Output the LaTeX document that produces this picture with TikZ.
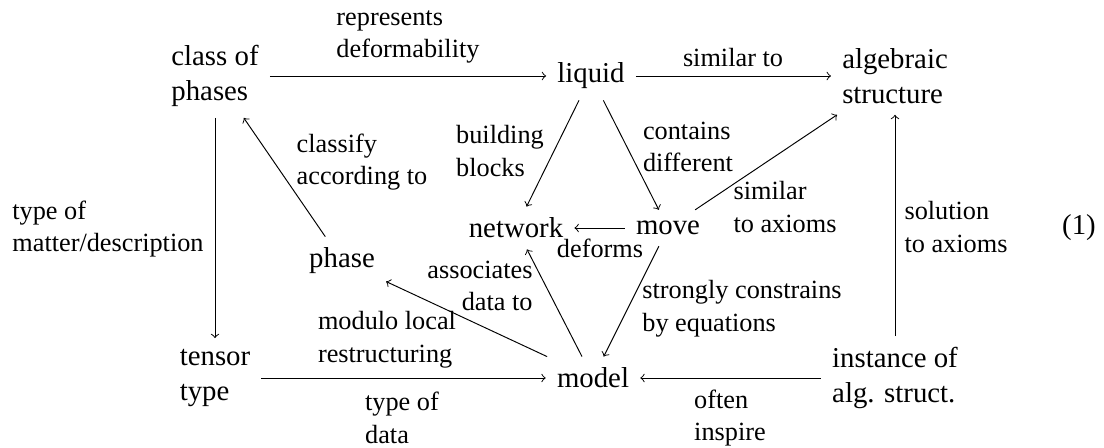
\documentclass[tikz,border=0pt,12pt]{standalone}
\usepackage{fontspec}
\setmainfont{Liberation Serif}
\tikzset{
  obj/.style={inner sep=4.5pt, align=left},
  lbl/.style={font=\small, align=left, inner sep=0pt},
  arr/.style={->},
}

\begin{document}
\begin{tikzpicture}[x=0.4167pt, y=-0.4167pt]
\useasboundingbox (0,0) rectangle (1104,447);
\node[obj] (class) at (215,76) {class of\\phases};
\node[obj] (liquid) at (591,76) {liquid};
\node[obj] (algstruct) at (895,76) {algebraic\\structure};
\node[obj] (network) at (516,228) {network};
\node[obj] (move) at (668,228) {move};
\node[obj] (phase) at (342,261) {phase};
\node[obj] (tensor) at (215,378) {tensor\\type};
\node[obj] (model) at (593,378) {model};
\node[obj] (instance) at (895,378) {instance of\\alg. struct.};
\node (eqno) at (1079,228) {(1)};

\node[lbl] (l-repr) at (408,37) {represents\\deformability};
\node[lbl] (l-sim) at (733,58) {similar to};
\node[lbl] (l-matter) at (108,229) {type of\\matter/description};
\node[lbl] (l-blocks) at (500,151) {building\\blocks};
\node[lbl] (l-contains) at (688,147) {contains\\different};
\node[lbl] (l-deforms) at (600,248) {deforms};
\node[lbl] (l-simax) at (785,207) {similar\\to axioms};
\node[lbl] (l-classify) at (362,162) {classify\\according to};
\node[lbl] (l-modulo) at (387,340) {modulo local\\restructuring};
\node[lbl, align=right] (l-assoc) at (480,286) {associates\\data to};
\node[lbl] (l-strong) at (742,309) {strongly constrains\\by equations};
\node[lbl] (l-tdata) at (402,418) {type of\\data};
\node[lbl] (l-inspire) at (730,418) {often\\inspire};
\node[lbl] (l-sol) at (956,227) {solution\\to axioms};

\draw[arr] (class) -- (liquid);
\draw[arr] (liquid) -- (algstruct);
\draw[arr] (class) -- (tensor);
\draw[arr] (liquid) -- (network);
\draw[arr] (liquid) -- (move);
\draw[arr] (move) -- (network);
\draw[arr] (move) -- (algstruct);
\draw[arr] (phase) -- (class);
\draw[arr] (model) -- (phase);
\draw[arr] (model) -- (network);
\draw[arr] (move) -- (model);
\draw[arr] (tensor) -- (model);
\draw[arr] (instance) -- (model);
\draw[arr] (instance) -- (algstruct);
\end{tikzpicture}
\end{document}
